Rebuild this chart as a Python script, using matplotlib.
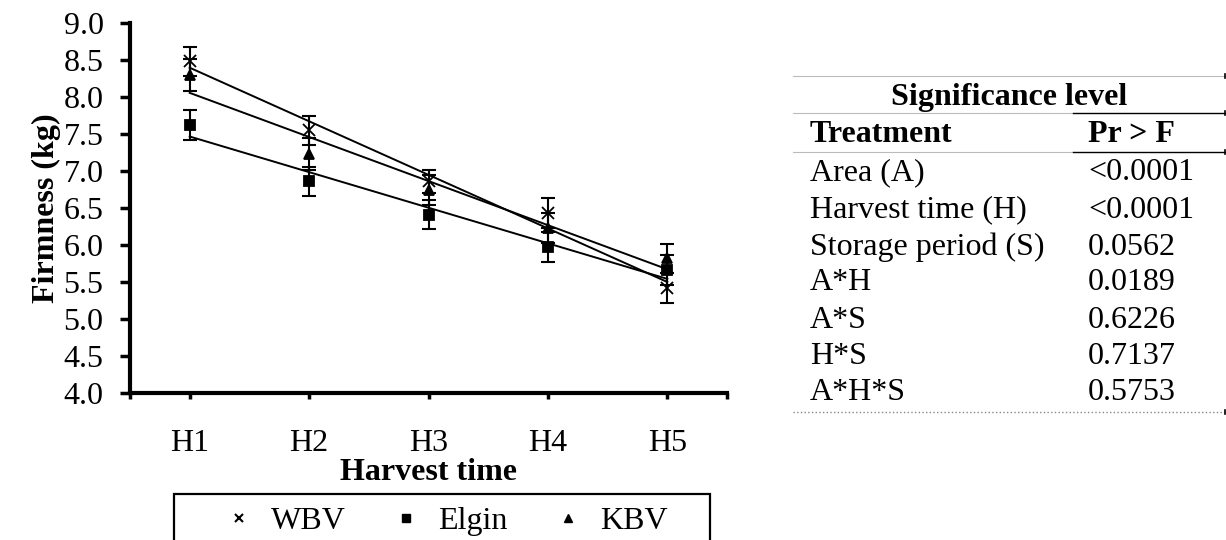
import numpy as np
import matplotlib
matplotlib.use("Agg")
import matplotlib.pyplot as plt
from matplotlib.lines import Line2D
from matplotlib.patches import Rectangle

plt.rcParams['font.family'] = ['Liberation Serif', 'DejaVu Serif']

# Firmness (kg) per harvest time, mean and error per cultivar
harvest = ['H1', 'H2', 'H3', 'H4', 'H5']
wbv = [8.48, 7.55, 6.86, 6.43, 5.42]
elgin = [7.62, 6.86, 6.41, 5.97, 5.66]
kbv = [8.30, 7.23, 6.74, 6.23, 5.82]
wbv_err = [0.20, 0.20, 0.16, 0.20, 0.20]
elgin_err = [0.20, 0.20, 0.20, 0.20, 0.20]
kbv_err = [0.22, 0.22, 0.20, 0.20, 0.20]

# ANOVA significance table
treatments = ['Area (A)', 'Harvest time (H)', 'Storage period (S)',
              'A*H', 'A*S', 'H*S', 'A*H*S']
p_values = ['<0.0001', '<0.0001', '0.0562', '0.0189', '0.6226', '0.7137', '0.5753']

FS = 23
W, H = 1226, 540
fig = plt.figure(figsize=(W / 100, H / 100), dpi=100)
ax = fig.add_axes([130 / W, 1 - 393 / H, (727 - 130) / W, (393 - 23) / H])

x = np.arange(1, len(harvest) + 1)
series = [(wbv, wbv_err, 'x', 8), (elgin, elgin_err, 's', 6.5), (kbv, kbv_err, '^', 7)]
for vals, err, mk, ms in series:
    ax.errorbar(x, vals, yerr=err, fmt='none', ecolor='k', elinewidth=1.5,
                capsize=5, capthick=1.5, zorder=2)
    ax.plot(x, vals, ls='none', marker=mk, ms=ms, color='k', mew=1.3, zorder=4)
    # linear trend line
    k, b = np.polyfit(x, vals, 1)
    ax.plot([x[0], x[-1]], [k * x[0] + b, k * x[-1] + b], color='k', lw=1.4, zorder=3)

ax.set_xlim(0.5, 5.5)
ax.set_ylim(4, 9)
ax.set_yticks(np.arange(4, 9.01, 0.5))
ax.set_yticklabels([f"{v:.1f}" for v in np.arange(4, 9.01, 0.5)])
ax.set_xticks(x)
ax.set_xticklabels(harvest)
ax.set_xticks([0.5, 5.5], minor=True)

for s in ['top', 'right']:
    ax.spines[s].set_visible(False)
for s in ['left', 'bottom']:
    ax.spines[s].set_linewidth(3)
ax.tick_params(axis='y', direction='out', length=7, width=2.5, pad=12, labelsize=FS)
ax.tick_params(axis='x', which='both', direction='out', length=4, width=2.5, pad=22, labelsize=FS)

ax.set_ylabel('Firmness (kg)', fontsize=FS, fontweight='bold', labelpad=2)
fig.text(428 / W, 1 - 472 / H, 'Harvest time', fontsize=FS, fontweight='bold',
         ha='center', va='center')

# legend below the plot
handles = [Line2D([], [], ls='none', marker='x', ms=5.5, mew=1.5, color='k'),
           Line2D([], [], ls='none', marker='s', ms=5.5, color='k'),
           Line2D([], [], ls='none', marker='^', ms=5.5, color='k')]
fig.legend(handles, ['WBV', 'Elgin', 'KBV'], ncol=3, frameon=False,
           loc='center left', bbox_to_anchor=(223 / W, 1 - 521 / H),
           borderpad=0, borderaxespad=0, handlelength=1.0, handletextpad=0.5,
           columnspacing=1.4, fontsize=FS)
fig.add_artist(Rectangle((174 / W, -0.1), (710 - 174) / W, 0.1 + 1 - 494 / H,
                         transform=fig.transFigure, fill=False, ec='k', lw=1.6))

# significance table
tx0, tx1, tmid = 793 / W, 1225 / W, 1073 / W


def hline(y, x0, x1, end_mark=False, **kw):
    fig.add_artist(Line2D([x0, x1], [1 - y / H, 1 - y / H], transform=fig.transFigure, **kw))
    if end_mark:
        # short mark at the table's right edge
        fig.add_artist(Line2D([x1, x1], [1 - (y - 2) / H, 1 - (y + 2) / H],
                              transform=fig.transFigure, color='k', lw=1.2))


hline(76, tx0, tx1, end_mark=True, color='#bbbbbb', lw=0.8)
fig.text(1009 / W, 1 - 97 / H, 'Significance level', fontsize=FS, fontweight='bold',
         ha='center', va='center')
for y in [113, 152]:
    hline(y, tx0, tmid, color='#bbbbbb', lw=0.8)
    hline(y, tmid, tx1, end_mark=True, color='k', lw=1.0)
fig.text(810 / W, 1 - 135 / H, 'Treatment', fontsize=FS, fontweight='bold', va='center')
fig.text(1088 / W, 1 - 135 / H, 'Pr > F', fontsize=FS, fontweight='bold', va='center')
row_y = [173, 210, 247, 283, 320, 357, 393]
for y, t, p in zip(row_y, treatments, p_values):
    fig.text(810 / W, 1 - y / H, t, fontsize=FS, va='center')
    fig.text(1088 / W, 1 - y / H, p, fontsize=FS, va='center')
hline(412, tx0, tx1, end_mark=True, color='#888888', lw=1.0, ls=':')

fig.savefig('out.png', dpi=100)
